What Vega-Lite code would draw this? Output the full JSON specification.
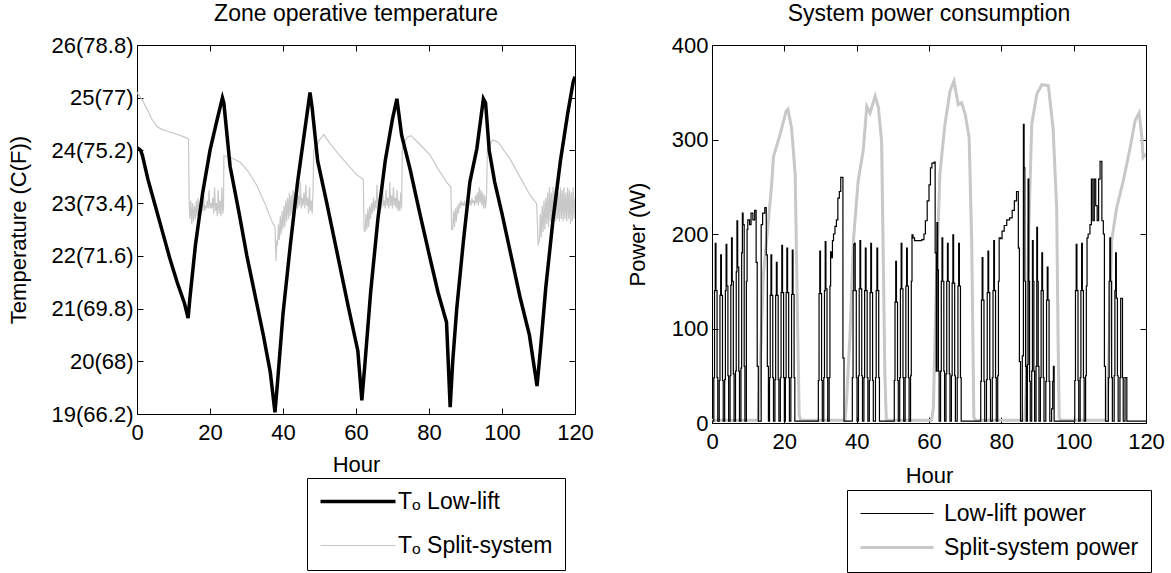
{
"$schema": "https://vega.github.io/schema/vega-lite/v6.json",
"background": "white",
"padding": {"left": 7, "top": 3, "right": 5, "bottom": 5},
"bounds": "flush",
"spacing": 137,
"resolve": {"scale": {"color": "independent"}, "legend": {"color": "independent"}},
"config": {
  "font": "Liberation Sans",
  "view": {"stroke": null},
  "axis": {"grid": false, "domain": true, "domainColor": "black", "domainWidth": 1, "ticks": true, "tickSize": -6, "tickColor": "black", "tickWidth": 1, "labelColor": "black", "labelFontSize": 22, "labelPadding": 14, "labelFlush": false, "titleFontWeight": "normal", "titleFontSize": 22, "titleColor": "black"},
  "title": {"fontSize": 23, "fontWeight": "normal", "color": "black", "offset": 8},
  "legend": {"labelFontSize": 23, "labelColor": "black", "labelLimit": 400}
},
"datasets": {
"tL": [
{"h":0,"v":24.05},{"h":1.0,"v":24.0},{"h":1.5,"v":23.9},{"h":3.0,"v":23.45},{"h":5.0,"v":22.95},{"h":7.0,"v":22.45},{"h":9.0,"v":21.95},{"h":11.0,"v":21.5},{"h":13.0,"v":21.1},{"h":14.0,"v":20.82},{"h":14.5,"v":21.2},{"h":16.0,"v":22.2},{"h":18.0,"v":23.2},{"h":20.0,"v":24.0},{"h":22.0,"v":24.6},{"h":23.4,"v":25.0},{"h":23.8,"v":24.9},{"h":25.5,"v":23.7},{"h":28.0,"v":22.8},{"h":30.1,"v":22.0},{"h":32.5,"v":21.2},{"h":34.6,"v":20.5},{"h":36.5,"v":19.8},{"h":37.8,"v":19.03},{"h":38.5,"v":19.6},{"h":40.0,"v":20.9},{"h":42.0,"v":22.2},{"h":44.0,"v":23.4},{"h":46.0,"v":24.4},{"h":47.4,"v":25.1},{"h":48.0,"v":24.8},{"h":49.5,"v":23.8},{"h":52.0,"v":23.0},{"h":55.0,"v":22.0},{"h":58.0,"v":21.0},{"h":60.5,"v":20.2},{"h":61.6,"v":19.26},{"h":62.5,"v":20.0},{"h":64.0,"v":21.3},{"h":66.0,"v":22.7},{"h":68.0,"v":23.8},{"h":70.0,"v":24.6},{"h":71.2,"v":24.98},{"h":72.5,"v":24.29},{"h":74.8,"v":23.65},{"h":77.5,"v":22.8},{"h":80.3,"v":21.95},{"h":82.5,"v":21.3},{"h":84.8,"v":20.74},{"h":85.8,"v":19.13},{"h":86.5,"v":20.0},{"h":87.6,"v":21.0},{"h":89.4,"v":22.26},{"h":91.2,"v":23.4},{"h":93.1,"v":24.03},{"h":94.9,"v":24.98},{"h":95.5,"v":24.9},{"h":96.5,"v":24.0},{"h":98.0,"v":23.4},{"h":100.0,"v":22.8},{"h":102.5,"v":22.0},{"h":105.0,"v":21.2},{"h":107.5,"v":20.5},{"h":109.6,"v":19.53},{"h":110.5,"v":20.2},{"h":112.0,"v":21.4},{"h":114.0,"v":22.7},{"h":116.0,"v":23.8},{"h":118.0,"v":24.7},{"h":119.5,"v":25.3},{"h":120.0,"v":25.4}
],
"tS": [
{"h":0,"v":25.1},{"h":1.5,"v":24.95},{"h":3.0,"v":24.75},{"h":4.0,"v":24.6},{"h":5.5,"v":24.45},{"h":6.8,"v":24.4},{"h":9.0,"v":24.35},{"h":12.0,"v":24.28},{"h":14.1,"v":24.22},{"h":14.3,"v":23.0},
{"h":14.5,"v":22.7},{"h":14.75,"v":23.05},{"h":15.0,"v":22.6},{"h":15.25,"v":23.0},{"h":15.5,"v":22.65},{"h":15.75,"v":22.95},{"h":16.0,"v":22.7},{"h":16.25,"v":23.05},{"h":16.5,"v":22.75},{"h":16.75,"v":23.1},{"h":17.0,"v":22.75},{"h":17.25,"v":23.0},{"h":17.5,"v":22.8},{"h":17.75,"v":23.1},{"h":18.0,"v":22.85},{"h":18.25,"v":23.15},{"h":18.5,"v":22.85},{"h":18.75,"v":22.95},{"h":19.0,"v":22.9},{"h":19.25,"v":23.05},{"h":19.5,"v":22.9},{"h":19.75,"v":23.25},{"h":20.0,"v":22.9},{"h":20.25,"v":23.0},{"h":20.5,"v":22.9},{"h":20.75,"v":23.1},{"h":21.0,"v":22.8},{"h":21.25,"v":23.3},{"h":21.5,"v":22.85},{"h":21.75,"v":23.0},{"h":22.0,"v":22.75},{"h":22.25,"v":23.25},{"h":22.5,"v":22.8},{"h":22.75,"v":23.05},{"h":23.0,"v":22.75},{"h":23.25,"v":23.3},{"h":23.5,"v":22.8},{"h":23.7,"v":22.9},
{"h":23.8,"v":23.9},{"h":25.5,"v":23.87},{"h":28.2,"v":23.78},{"h":30.5,"v":23.6},{"h":32.8,"v":23.34},{"h":35.0,"v":23.0},{"h":37.0,"v":22.65},{"h":37.8,"v":22.55},{"h":38.1,"v":21.9},{"h":38.3,"v":22.3},
{"h":38.5,"v":22.2},{"h":38.75,"v":22.6},{"h":39.0,"v":22.3},{"h":39.25,"v":22.75},{"h":39.5,"v":22.4},{"h":39.75,"v":22.85},{"h":40.0,"v":22.5},{"h":40.25,"v":22.95},{"h":40.5,"v":22.55},{"h":40.75,"v":23.05},{"h":41.0,"v":22.65},{"h":41.25,"v":23.1},{"h":41.5,"v":22.7},{"h":41.75,"v":23.2},{"h":42.0,"v":22.75},{"h":42.25,"v":23.15},{"h":42.5,"v":22.8},{"h":42.75,"v":23.25},{"h":43.0,"v":22.85},{"h":43.25,"v":23.2},{"h":43.5,"v":22.9},{"h":43.75,"v":23.45},{"h":44.0,"v":22.9},{"h":44.25,"v":23.15},{"h":44.5,"v":22.95},{"h":44.75,"v":23.4},{"h":45.0,"v":22.9},{"h":45.25,"v":23.1},{"h":45.5,"v":22.95},{"h":45.75,"v":23.2},{"h":46.0,"v":22.9},{"h":46.25,"v":23.35},{"h":46.5,"v":22.95},{"h":46.75,"v":23.1},{"h":47.0,"v":22.8},{"h":47.25,"v":23.3},{"h":47.5,"v":22.85},{"h":47.75,"v":23.05},{"h":48.0,"v":22.8},{"h":48.25,"v":23.3},
{"h":48.4,"v":24.0},{"h":50.0,"v":24.2},{"h":51.2,"v":24.3},{"h":52.9,"v":24.13},{"h":55.0,"v":23.95},{"h":57.5,"v":23.75},{"h":60.0,"v":23.55},{"h":62.0,"v":23.45},{"h":62.2,"v":22.5},
{"h":62.5,"v":22.45},{"h":62.75,"v":22.8},{"h":63.0,"v":22.5},{"h":63.25,"v":22.9},{"h":63.5,"v":22.55},{"h":63.75,"v":22.95},{"h":64.0,"v":22.7},{"h":64.25,"v":23.0},{"h":64.5,"v":22.8},{"h":64.75,"v":23.1},{"h":65.0,"v":22.85},{"h":65.25,"v":23.05},{"h":65.5,"v":22.9},{"h":65.75,"v":23.35},{"h":66.0,"v":22.9},{"h":66.25,"v":23.1},{"h":66.5,"v":22.95},{"h":66.75,"v":23.2},{"h":67.0,"v":22.9},{"h":67.25,"v":23.4},{"h":67.5,"v":22.95},{"h":67.75,"v":23.05},{"h":68.0,"v":22.9},{"h":68.25,"v":23.25},{"h":68.5,"v":22.95},{"h":68.75,"v":23.1},{"h":69.0,"v":22.9},{"h":69.25,"v":23.4},{"h":69.5,"v":22.95},{"h":69.75,"v":23.15},{"h":70.0,"v":22.9},{"h":70.25,"v":23.3},{"h":70.5,"v":22.95},{"h":70.75,"v":23.1},{"h":71.0,"v":22.9},{"h":71.25,"v":23.25},{"h":71.5,"v":22.85},{"h":71.75,"v":23.05},{"h":72.0,"v":22.85},{"h":72.25,"v":23.2},{"h":72.5,"v":22.9},
{"h":72.7,"v":24.05},{"h":74.0,"v":24.25},{"h":75.0,"v":24.28},{"h":77.0,"v":24.15},{"h":80.3,"v":23.91},{"h":82.5,"v":23.65},{"h":84.8,"v":23.4},{"h":86.0,"v":23.3},{"h":86.2,"v":22.5},
{"h":86.5,"v":22.5},{"h":86.75,"v":22.85},{"h":87.0,"v":22.55},{"h":87.25,"v":22.9},{"h":87.5,"v":22.65},{"h":87.75,"v":22.95},{"h":88.0,"v":22.8},{"h":88.25,"v":23.0},{"h":88.5,"v":22.9},{"h":88.75,"v":23.05},{"h":89.0,"v":22.95},{"h":89.25,"v":23.0},{"h":89.5,"v":22.95},{"h":89.75,"v":23.05},{"h":90.0,"v":22.95},{"h":90.25,"v":23.0},{"h":90.5,"v":22.95},{"h":90.75,"v":23.05},{"h":91.0,"v":23.0},{"h":91.25,"v":23.05},{"h":91.5,"v":22.95},{"h":91.75,"v":23.1},{"h":92.0,"v":23.0},{"h":92.25,"v":23.05},{"h":92.5,"v":22.95},{"h":92.75,"v":23.15},{"h":93.0,"v":23.0},{"h":93.25,"v":23.2},{"h":93.5,"v":22.95},{"h":93.75,"v":23.3},{"h":94.0,"v":23.0},{"h":94.25,"v":23.25},{"h":94.5,"v":22.95},{"h":94.75,"v":23.2},{"h":95.0,"v":22.9},{"h":95.25,"v":23.15},{"h":95.5,"v":22.9},{"h":95.75,"v":23.1},
{"h":96.0,"v":24.05},{"h":97.5,"v":24.2},{"h":99.0,"v":24.15},{"h":100.5,"v":24.0},{"h":102.2,"v":23.84},{"h":104.5,"v":23.55},{"h":107.7,"v":23.15},{"h":109.5,"v":22.99},{"h":109.9,"v":22.2},
{"h":110.25,"v":22.3},{"h":110.5,"v":22.8},{"h":110.75,"v":22.35},{"h":111.0,"v":22.95},{"h":111.25,"v":22.45},{"h":111.5,"v":23.05},{"h":111.75,"v":22.5},{"h":112.0,"v":23.1},{"h":112.25,"v":22.6},{"h":112.5,"v":23.2},{"h":112.75,"v":22.55},{"h":113.0,"v":23.3},{"h":113.25,"v":22.65},{"h":113.5,"v":23.2},{"h":113.75,"v":22.6},{"h":114.0,"v":23.3},{"h":114.25,"v":22.7},{"h":114.5,"v":23.25},{"h":114.75,"v":22.65},{"h":115.0,"v":23.35},{"h":115.25,"v":22.7},{"h":115.5,"v":23.2},{"h":115.75,"v":22.65},{"h":116.0,"v":23.3},{"h":116.25,"v":22.7},{"h":116.5,"v":23.25},{"h":116.75,"v":22.65},{"h":117.0,"v":23.3},{"h":117.25,"v":22.7},{"h":117.5,"v":23.2},{"h":117.75,"v":22.65},{"h":118.0,"v":23.3},{"h":118.25,"v":22.7},{"h":118.5,"v":23.25},{"h":118.75,"v":22.6},{"h":119.0,"v":23.2},{"h":119.25,"v":22.65},{"h":119.5,"v":23.3},{"h":119.75,"v":22.7},{"h":120.0,"v":23.1}
],
"pS": [
{"h":0,"v":3},{"h":12.8,"v":3},{"h":13.3,"v":57},{"h":14.2,"v":157},{"h":15.6,"v":214},{"h":16.5,"v":253},{"h":17.0,"v":282},{"h":18.8,"v":305},{"h":20.5,"v":330},{"h":21.0,"v":332},{"h":22.0,"v":312},{"h":23.0,"v":263},{"h":23.6,"v":122},{"h":24.1,"v":9},{"h":24.5,"v":3},
{"h":36.8,"v":3},{"h":37.2,"v":23},{"h":38.2,"v":97},{"h":39.1,"v":193},{"h":40.4,"v":256},{"h":41.8,"v":288},{"h":42.8,"v":335},{"h":43.7,"v":328},{"h":45.1,"v":346},{"h":46.0,"v":334},{"h":46.9,"v":298},{"h":47.8,"v":52},{"h":48.2,"v":3},
{"h":60.7,"v":3},{"h":61.2,"v":16},{"h":62.1,"v":157},{"h":63.0,"v":263},{"h":64.4,"v":316},{"h":65.8,"v":351},{"h":66.9,"v":362},{"h":68.1,"v":337},{"h":69.0,"v":339},{"h":70.0,"v":327},{"h":71.1,"v":302},{"h":71.8,"v":193},{"h":72.4,"v":6},{"h":72.8,"v":3},
{"h":86.5,"v":3},{"h":87.0,"v":52},{"h":87.5,"v":193},{"h":88.4,"v":316},{"h":89.8,"v":348},{"h":91.2,"v":358},{"h":93.0,"v":357},{"h":94.3,"v":312},{"h":95.3,"v":228},{"h":95.7,"v":87},{"h":96.0,"v":6},{"h":96.4,"v":3},
{"h":109.1,"v":3},{"h":109.6,"v":52},{"h":110.5,"v":193},{"h":111.9,"v":228},{"h":113.7,"v":256},{"h":115.6,"v":291},{"h":117.0,"v":320},{"h":118.1,"v":328},{"h":118.8,"v":305},{"h":119.2,"v":281},{"h":120,"v":285}
],
"pL": [
{"h":0,"v":2},{"h":0.5,"v":48},{"h":0.7,"v":140},{"h":0.9,"v":190},{"h":1.1,"v":140},{"h":1.4,"v":48},{"h":1.6,"v":2},
{"h":2.0,"v":45},{"h":2.2,"v":135},{"h":2.4,"v":178},{"h":2.6,"v":135},{"h":2.9,"v":45},{"h":3.1,"v":2},
{"h":3.5,"v":46},{"h":3.7,"v":140},{"h":3.9,"v":189},{"h":4.1,"v":145},{"h":4.4,"v":50},{"h":4.6,"v":2},
{"h":5.0,"v":50},{"h":5.2,"v":146},{"h":5.4,"v":196},{"h":5.6,"v":150},{"h":5.9,"v":52},{"h":6.1,"v":2},
{"h":6.5,"v":55},{"h":6.7,"v":160},{"h":6.9,"v":214},{"h":7.1,"v":165},{"h":7.4,"v":55},{"h":7.6,"v":2},
{"h":8.0,"v":58},{"h":8.2,"v":180},{"h":8.4,"v":222},{"h":8.6,"v":210},{"h":8.9,"v":60},{"h":9.1,"v":2},
{"h":9.5,"v":150},{"h":9.7,"v":205},{"h":9.9,"v":215},{"h":10.4,"v":210},{"h":10.8,"v":222},{"h":11.3,"v":215},{"h":11.8,"v":225},{"h":12.2,"v":170},{"h":12.5,"v":60},{"h":12.8,"v":2},
{"h":13.6,"v":210},{"h":14.0,"v":222},{"h":14.6,"v":228},{"h":15.0,"v":178},{"h":15.3,"v":60},{"h":15.6,"v":2},
{"h":15.9,"v":48},{"h":16.1,"v":135},{"h":16.3,"v":178},{"h":16.5,"v":135},{"h":16.8,"v":48},{"h":17.0,"v":2},
{"h":17.4,"v":46},{"h":17.6,"v":135},{"h":17.8,"v":170},{"h":18.0,"v":135},{"h":18.3,"v":46},{"h":18.5,"v":2},
{"h":18.9,"v":48},{"h":19.1,"v":138},{"h":19.3,"v":188},{"h":19.5,"v":138},{"h":19.8,"v":48},{"h":20.0,"v":2},
{"h":20.3,"v":48},{"h":20.5,"v":138},{"h":20.7,"v":185},{"h":20.9,"v":138},{"h":21.2,"v":48},{"h":21.4,"v":2},
{"h":21.8,"v":48},{"h":22.0,"v":136},{"h":22.2,"v":183},{"h":22.4,"v":136},{"h":22.7,"v":48},{"h":22.9,"v":2},
{"h":29.4,"v":45},{"h":29.6,"v":137},{"h":29.8,"v":182},{"h":30.0,"v":137},{"h":30.3,"v":45},{"h":30.5,"v":2},
{"h":30.9,"v":48},{"h":31.1,"v":140},{"h":31.3,"v":192},{"h":31.5,"v":142},{"h":31.8,"v":48},{"h":32.0,"v":2},
{"h":32.4,"v":48},{"h":32.6,"v":145},{"h":32.8,"v":181},{"h":33.0,"v":175},{"h":33.3,"v":193},{"h":33.6,"v":200},{"h":34.0,"v":208},{"h":34.4,"v":215},{"h":34.8,"v":238},{"h":35.2,"v":245},{"h":35.6,"v":260},{"h":36.2,"v":69},{"h":36.5,"v":2},
{"h":38.8,"v":48},{"h":39.0,"v":140},{"h":39.2,"v":189},{"h":39.4,"v":190},{"h":39.6,"v":140},{"h":39.9,"v":48},{"h":40.1,"v":2},
{"h":40.5,"v":50},{"h":40.7,"v":142},{"h":40.9,"v":193},{"h":41.1,"v":142},{"h":41.4,"v":50},{"h":41.6,"v":2},
{"h":42.0,"v":48},{"h":42.2,"v":140},{"h":42.4,"v":185},{"h":42.6,"v":140},{"h":42.9,"v":48},{"h":43.1,"v":2},
{"h":43.5,"v":45},{"h":43.7,"v":138},{"h":43.9,"v":190},{"h":44.1,"v":138},{"h":44.4,"v":45},{"h":44.6,"v":2},
{"h":45.2,"v":48},{"h":45.4,"v":140},{"h":45.6,"v":185},{"h":45.8,"v":140},{"h":46.1,"v":48},{"h":46.3,"v":2},
{"h":50.4,"v":45},{"h":50.6,"v":128},{"h":50.8,"v":171},{"h":51.0,"v":128},{"h":51.3,"v":45},{"h":51.5,"v":2},
{"h":51.9,"v":48},{"h":52.1,"v":142},{"h":52.3,"v":190},{"h":52.5,"v":142},{"h":52.8,"v":48},{"h":53.0,"v":2},
{"h":53.4,"v":48},{"h":53.6,"v":145},{"h":53.8,"v":185},{"h":54.0,"v":145},{"h":54.3,"v":48},{"h":54.5,"v":2},
{"h":54.9,"v":50},{"h":55.1,"v":150},{"h":55.3,"v":199},{"h":55.6,"v":196},{"h":56.0,"v":193},{"h":57.0,"v":193},{"h":58.0,"v":194},{"h":58.6,"v":200},{"h":59.0,"v":214},{"h":59.5,"v":235},{"h":60.0,"v":252},{"h":60.4,"v":270},{"h":60.8,"v":275},{"h":61.4,"v":276},{"h":61.7,"v":180},{"h":62.0,"v":55},
{"h":62.2,"v":212},{"h":62.4,"v":162},{"h":62.6,"v":55},{"h":62.8,"v":2},
{"h":63.2,"v":55},{"h":63.4,"v":150},{"h":63.6,"v":196},{"h":63.8,"v":150},{"h":64.1,"v":55},{"h":64.3,"v":2},
{"h":64.7,"v":52},{"h":64.9,"v":150},{"h":65.1,"v":190},{"h":65.3,"v":150},{"h":65.6,"v":52},{"h":65.8,"v":2},
{"h":66.2,"v":50},{"h":66.4,"v":148},{"h":66.6,"v":199},{"h":66.8,"v":148},{"h":67.1,"v":50},{"h":67.3,"v":2},
{"h":67.8,"v":48},{"h":68.0,"v":145},{"h":68.2,"v":190},{"h":68.4,"v":145},{"h":68.7,"v":48},{"h":68.9,"v":2},
{"h":74.3,"v":44},{"h":74.5,"v":130},{"h":74.7,"v":175},{"h":74.9,"v":130},{"h":75.2,"v":44},{"h":75.4,"v":2},
{"h":75.9,"v":46},{"h":76.1,"v":138},{"h":76.3,"v":182},{"h":76.5,"v":138},{"h":76.8,"v":46},{"h":77.0,"v":2},
{"h":77.5,"v":48},{"h":77.7,"v":140},{"h":77.9,"v":193},{"h":78.1,"v":140},{"h":78.4,"v":48},{"h":78.6,"v":2},
{"h":79.0,"v":50},{"h":79.2,"v":150},{"h":79.4,"v":196},{"h":79.8,"v":195},{"h":80.2,"v":203},{"h":80.8,"v":209},{"h":81.5,"v":215},{"h":82.3,"v":217},{"h":83.0,"v":225},{"h":83.6,"v":235},{"h":84.2,"v":245},{"h":84.7,"v":185},{"h":85.0,"v":65},{"h":85.3,"v":2},
{"h":85.8,"v":71},{"h":86.1,"v":316},{"h":86.3,"v":270},{"h":86.5,"v":150},{"h":86.7,"v":60},{"h":86.9,"v":2},
{"h":87.2,"v":62},{"h":87.4,"v":258},{"h":87.6,"v":150},{"h":87.8,"v":44},{"h":88.0,"v":2},
{"h":88.4,"v":55},{"h":88.6,"v":193},{"h":88.8,"v":150},{"h":89.0,"v":55},{"h":89.2,"v":2},
{"h":89.6,"v":60},{"h":89.8,"v":207},{"h":90.0,"v":150},{"h":90.2,"v":60},{"h":90.4,"v":2},
{"h":90.8,"v":48},{"h":91.0,"v":140},{"h":91.2,"v":180},{"h":91.4,"v":140},{"h":91.6,"v":48},{"h":91.8,"v":2},
{"h":92.3,"v":44},{"h":92.5,"v":130},{"h":92.7,"v":165},{"h":92.9,"v":130},{"h":93.2,"v":44},{"h":93.4,"v":2},
{"h":93.9,"v":15},{"h":94.2,"v":44},{"h":94.4,"v":60},{"h":94.6,"v":2},
{"h":100.3,"v":45},{"h":100.5,"v":140},{"h":100.7,"v":189},{"h":100.9,"v":140},{"h":101.2,"v":45},{"h":101.4,"v":2},
{"h":101.8,"v":48},{"h":102.0,"v":140},{"h":102.2,"v":190},{"h":102.4,"v":140},{"h":102.7,"v":48},{"h":102.9,"v":2},
{"h":103.3,"v":50},{"h":103.5,"v":145},{"h":103.7,"v":196},{"h":104.0,"v":200},{"h":104.5,"v":210},{"h":104.9,"v":258},{"h":105.3,"v":214},{"h":105.7,"v":258},{"h":106.1,"v":230},{"h":106.5,"v":214},{"h":106.9,"v":258},{"h":107.3,"v":277},{"h":107.8,"v":214},{"h":108.2,"v":200},{"h":108.5,"v":60},{"h":108.8,"v":2},
{"h":109.6,"v":48},{"h":109.8,"v":150},{"h":110.0,"v":196},{"h":110.2,"v":150},{"h":110.5,"v":48},{"h":110.7,"v":2},
{"h":111.2,"v":50},{"h":111.4,"v":140},{"h":111.6,"v":180},{"h":111.8,"v":132},{"h":112.1,"v":50},{"h":112.3,"v":2},
{"h":112.8,"v":48},{"h":113.0,"v":132},{"h":113.2,"v":132},{"h":113.5,"v":48},{"h":113.7,"v":2},
{"h":114.2,"v":48},{"h":114.4,"v":48},{"h":114.7,"v":2},{"h":120,"v":2}
]
},
"hconcat": [
{
  "width": 438, "height": 369,
  "title": "Zone operative temperature",
  "layer": [
    {
      "data": {"name": "tS"},
      "mark": {"type": "line", "strokeWidth": 1.2, "clip": true},
      "encoding": {
        "x": {"field": "h", "type": "quantitative", "scale": {"domain": [0, 120], "nice": false}, "axis": {"values": [0, 20, 40, 60, 80, 100, 120], "title": "Hour", "titlePadding": 11}},
        "y": {"field": "v", "type": "quantitative", "scale": {"domain": [19, 26], "nice": false, "zero": false}, "axis": {"values": [19, 20, 21, 22, 23, 24, 25, 26], "labelExpr": "datum.value + '(' + format(datum.value * 1.8 + 32, '.1~f') + ')'", "title": "Temperature (C(F))", "titlePadding": 21, "labelPadding": 10}},
        "color": {"datum": "S", "type": "nominal", "scale": {"domain": ["L", "S"], "range": ["#000000", "#c8c8c8"]},
          "legend": {"orient": "none", "legendX": 170, "legendY": 433, "title": null, "direction": "vertical",
            "labelExpr": "datum.value == 'L' ? 'Tₒ Low-lift' : 'Tₒ Split-system'",
            "symbolType": "M-1,0H6.5", "symbolSize": 400, "rowPadding": 20, "padding": 12,
            "strokeColor": "black", "fillColor": "white", "labelOffset": 56, "labelFontSize": 23,
            "encode": {"symbols": {"update": {"strokeWidth": {"signal": "datum.value == 'L' ? 3.5 : 1.2"}, "fill": {"value": "transparent"}}}}}}
      }
    },
    {
      "data": {"name": "tL"},
      "mark": {"type": "line", "strokeWidth": 3.5, "clip": true},
      "encoding": {
        "x": {"field": "h", "type": "quantitative", "scale": {"domain": [0, 120], "nice": false}, "axis": {"orient": "top", "values": [0, 20, 40, 60, 80, 100, 120], "labels": false, "title": null}},
        "y": {"field": "v", "type": "quantitative", "scale": {"domain": [19, 26], "nice": false, "zero": false}, "axis": {"orient": "right", "values": [19, 20, 21, 22, 23, 24, 25, 26], "labels": false, "title": null}},
        "color": {"datum": "L", "type": "nominal", "scale": {"domain": ["L", "S"], "range": ["#000000", "#c8c8c8"]}}
      }
    }
  ],
  "resolve": {"axis": {"x": "independent", "y": "independent"}}
},
{
  "width": 434, "height": 378,
  "title": "System power consumption",
  "layer": [
    {
      "data": {"name": "pS"},
      "mark": {"type": "line", "strokeWidth": 3, "clip": true},
      "encoding": {
        "x": {"field": "h", "type": "quantitative", "scale": {"domain": [0, 120], "nice": false}, "axis": {"values": [0, 20, 40, 60, 80, 100, 120], "title": "Hour", "titlePadding": 13}},
        "y": {"field": "v", "type": "quantitative", "scale": {"domain": [0, 400], "nice": false}, "axis": {"values": [0, 100, 200, 300, 400], "title": "Power (W)", "titlePadding": 22, "labelPadding": 10}},
        "color": {"datum": "S", "type": "nominal", "scale": {"domain": ["L", "S"], "range": ["#000000", "#c8c8c8"]},
          "legend": {"orient": "none", "legendX": 135, "legendY": 445, "title": null, "direction": "vertical",
            "labelExpr": "datum.value == 'L' ? 'Low-lift power' : 'Split-system power'",
            "symbolType": "M-1,0H6.3", "symbolSize": 400, "rowPadding": 10, "padding": 12,
            "strokeColor": "black", "fillColor": "white", "labelOffset": 62, "labelFontSize": 23,
            "encode": {"symbols": {"update": {"strokeWidth": {"signal": "datum.value == 'L' ? 1.2 : 3"}, "fill": {"value": "transparent"}}}}}}
      }
    },
    {
      "data": {"name": "pL"},
      "mark": {"type": "line", "strokeWidth": 1.2, "interpolate": "step-after", "clip": true},
      "encoding": {
        "x": {"field": "h", "type": "quantitative", "scale": {"domain": [0, 120], "nice": false}, "axis": {"orient": "top", "values": [0, 20, 40, 60, 80, 100, 120], "labels": false, "title": null}},
        "y": {"field": "v", "type": "quantitative", "scale": {"domain": [0, 400], "nice": false}, "axis": {"orient": "right", "values": [0, 100, 200, 300, 400], "labels": false, "title": null}},
        "color": {"datum": "L", "type": "nominal", "scale": {"domain": ["L", "S"], "range": ["#000000", "#c8c8c8"]}}
      }
    }
  ],
  "resolve": {"axis": {"x": "independent", "y": "independent"}}
}
]
}
